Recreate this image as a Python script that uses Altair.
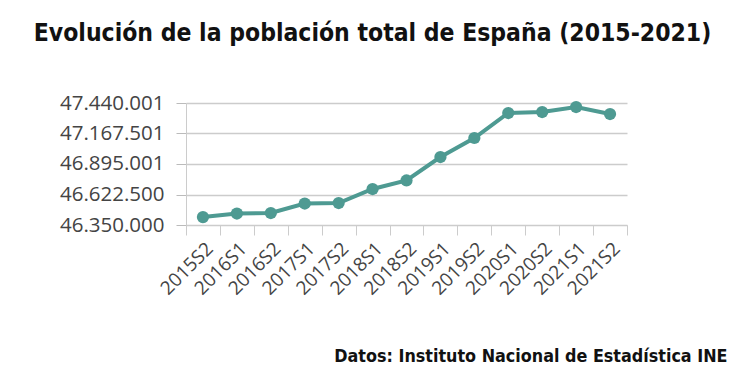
import altair as alt
import pandas as pd

periodos = ["2015S2", "2016S1", "2016S2", "2017S1", "2017S2", "2018S1", "2018S2",
            "2019S1", "2019S2", "2020S1", "2020S2", "2021S1", "2021S2"]
poblacion = [46421000, 46452700, 46457200, 46542000, 46546500, 46671600, 46747600,
             46957500, 47127300, 47350600, 47359500, 47404200, 47341700]
ticks_y = [46350000, 46622500, 46895001, 47167501, 47440001]

df = pd.DataFrame({"periodo": periodos, "poblacion": poblacion})

color = "#4e9a92"

base = alt.Chart(df).encode(
    x=alt.X("periodo:N", sort=periodos,
            scale=alt.Scale(paddingInner=0, paddingOuter=0),
            axis=alt.Axis(labelAngle=-45, labelFont="Open Sans", labelFontSize=19,
                          labelColor="#444", tickBand="extent", tickSize=10,
                          tickColor="#ccc", domainColor="#ccc", labelPadding=4,
                          title="Datos: Instituto Nacional de Estadística INE",
                          titleFont="DejaVu Sans Condensed", titleFontSize=17.8,
                          titleFontWeight="bold", titleColor="#111",
                          titleAlign="right", titleAnchor="end",
                          titleBaseline="alphabetic", titleX=541, titleY=136)),
    y=alt.Y("poblacion:Q",
            scale=alt.Scale(domain=[46350000, 47440001], zero=False, nice=False),
            axis=alt.Axis(values=ticks_y, format=",d", title=None,
                          labelFont="Open Sans", labelFontSize=20.5, labelColor="#444",
                          tickSize=10, tickColor="#bbb", domainColor="#ccc",
                          gridColor="#ccc", gridWidth=1.5, labelPadding=12)),
)

line = base.mark_line(color=color, strokeWidth=4)
pts = base.mark_circle(color=color, size=150, opacity=1)

chart = (line + pts).properties(
    width=441, height=122,
    padding={"left": 186, "top": 103, "right": 123, "bottom": 150},
    autosize=alt.AutoSizeParams(type="none"),
    title=alt.TitleParams("Evolución de la población total de España (2015-2021)",
                          font="DejaVu Sans Condensed", fontSize=24.5, fontWeight="bold",
                          color="#111", anchor="middle", dx=-34, offset=28,
                          baseline="alphabetic"),
).configure_view(stroke=None)

chart.save("out.html", embed_options={"renderer": "svg", "actions": False,
                                      "formatLocale": {"decimal": ",", "thousands": ".",
                                                       "grouping": [3],
                                                       "currency": ["", " €"]}})
